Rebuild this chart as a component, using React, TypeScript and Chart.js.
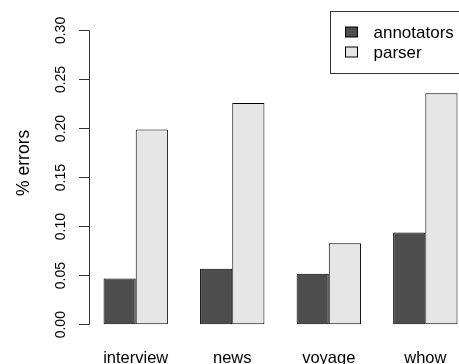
import React, { useEffect, useRef } from 'react';
import { Chart, registerables } from 'chart.js';

Chart.register(...registerables);

const categories = ['interview', 'news', 'voyage', 'whow'];
const seriesNames = ['annotators', 'parser'];
const annotators = [0.047, 0.057, 0.052, 0.094];
const parser = [0.199, 0.226, 0.083, 0.236];
const yTicks = [0, 0.05, 0.1, 0.15, 0.2, 0.25, 0.3];
const seriesColors = ['#4d4d4d', '#e6e6e6'];

const FONT = "'Liberation Sans', Arial, Helvetica, sans-serif";

export default function App() {
  const ref = useRef<HTMLCanvasElement>(null);

  useEffect(() => {
    document.body.style.margin = '0';
    const canvas = ref.current;
    if (!canvas) return;

    const axisLinePlugin = {
      id: 'axisLine',
      afterDraw(chart: any) {
        const ys = chart.scales.y;
        const ctx = chart.ctx;
        const x = Math.round(chart.chartArea.left) + 0.5;
        ctx.save();
        ctx.strokeStyle = '#333';
        ctx.lineWidth = 1;
        ctx.beginPath();
        ctx.moveTo(x, ys.getPixelForValue(yTicks[0]));
        ctx.lineTo(x, ys.getPixelForValue(yTicks[yTicks.length - 1]));
        ctx.stroke();
        ctx.restore();
      },
    };

    const legendPlugin = {
      id: 'boxLegend',
      afterDraw(chart: any) {
        const ctx = chart.ctx;
        const area = chart.chartArea;
        const left = Math.round(area.right - 129) + 0.5;
        const top = Math.round(area.top + 10) + 0.5;
        const right = area.right + 14;
        const bottom = top + 62;
        ctx.save();
        ctx.strokeStyle = '#333';
        ctx.lineWidth = 1;
        ctx.strokeRect(left, top, right - left, bottom - top);
        ctx.font = `17px ${FONT}`;
        ctx.textBaseline = 'middle';
        ctx.textAlign = 'left';
        chart.data.datasets.forEach((ds: any, i: number) => {
          const cy = top + 20.5 + i * 20;
          const sx = left + 15;
          ctx.fillStyle = ds.backgroundColor;
          ctx.fillRect(sx, cy - 5, 12, 10);
          ctx.strokeStyle = '#000';
          ctx.strokeRect(sx, cy - 5, 12, 10);
          ctx.fillStyle = '#000';
          ctx.fillText(ds.label, left + 43, cy + 1.2);
        });
        ctx.restore();
      },
    };

    const chart = new Chart(canvas, {
      type: 'bar',
      data: {
        datasets: [
          {
            label: seriesNames[0],
            data: categories.map((_, i) => ({ x: i, y: annotators[i] })),
            backgroundColor: seriesColors[0],
            borderColor: '#000',
            borderWidth: 1,
            borderSkipped: false,
          },
          {
            label: seriesNames[1],
            data: categories.map((_, i) => ({ x: i, y: parser[i] })),
            backgroundColor: seriesColors[1],
            borderColor: '#000',
            borderWidth: 1,
            borderSkipped: false,
          },
        ],
      },
      options: {
        animation: false,
        responsive: true,
        maintainAspectRatio: false,
        layout: { padding: { top: 1, left: 0, right: 0, bottom: 0 } },
        datasets: {
          bar: { categoryPercentage: 2 / 3, barPercentage: 1 },
        },
        plugins: {
          legend: { display: false },
          tooltip: { enabled: false },
        },
        scales: {
          x: {
            type: 'linear',
            min: -0.484,
            max: 3.349,
            offset: false,
            bounds: 'data',
            grid: { display: false, drawTicks: false },
            border: { display: false },
            afterBuildTicks: (scale: any) => {
              scale.ticks = categories.map((_, i) => ({ value: i }));
            },
            afterFit: (scale: any) => {
              scale.height = 39.3;
              scale.paddingLeft = 0;
              scale.paddingRight = 0;
              scale.paddingTop = 0;
              scale.paddingBottom = 0;
            },
            ticks: {
              autoSkip: false,
              maxRotation: 0,
              minRotation: 0,
              padding: 23.6,
              color: '#000',
              font: { family: FONT, size: 16.5 },
              callback: (v: any) => categories[Math.round(Number(v))] ?? '',
            },
          },
          y: {
            type: 'linear',
            min: 0,
            max: 0.33,
            bounds: 'data',
            border: { display: false },
            grid: {
              display: true,
              drawOnChartArea: false,
              drawTicks: true,
              tickLength: 10,
              color: '#333',
              lineWidth: 1,
            },
            afterBuildTicks: (scale: any) => {
              scale.ticks = yTicks.map((v) => ({ value: v }));
            },
            afterFit: (scale: any) => {
              scale.width = 89;
              scale.paddingLeft = 0;
              scale.paddingRight = 0;
              scale.paddingTop = 0;
              scale.paddingBottom = 0;
            },
            title: {
              display: true,
              text: '% errors',
              color: '#000',
              font: { family: FONT, size: 17.5 },
              padding: { top: 14, bottom: 0 },
            },
            ticks: {
              autoSkip: false,
              minRotation: 90,
              maxRotation: 90,
              crossAlign: 'center',
              padding: 4,
              color: '#000',
              font: { family: FONT, size: 14 },
              callback: (v: any) => Number(v).toFixed(2),
            },
          },
        },
      },
      plugins: [axisLinePlugin, legendPlugin],
    });

    return () => chart.destroy();
  }, []);

  return (
    <div style={{ position: 'fixed', left: 0, top: 0, width: 459, height: 364 }}>
      <canvas ref={ref} />
    </div>
  );
}
